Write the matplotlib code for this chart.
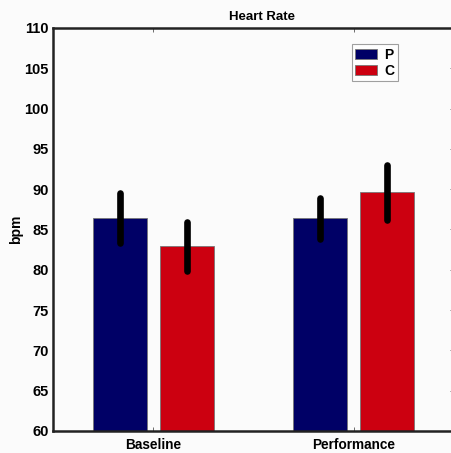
import numpy as np
import matplotlib
matplotlib.use("Agg")
import matplotlib.pyplot as plt

plt.rcParams['font.family'] = ['Liberation Sans', 'DejaVu Sans']
plt.rcParams['font.weight'] = 'bold'

# heart rate means and error per condition
conditions = ["Baseline", "Performance"]
groups = ["P", "C"]
means_p = [86.4, 86.4]
means_c = [82.9, 89.6]
err_p = [3.1, 2.55]
err_c = [3.0, 3.4]
colors = ["#000066", "#cc0010"]
yticks = [60, 65, 70, 75, 80, 85, 90, 95, 100, 105, 110]

fig = plt.figure(figsize=(4.52, 4.53), dpi=100, facecolor="#fbfbfb")
ax = fig.add_axes([53 / 452, 22 / 453, 401 / 452, 403 / 453])
ax.set_facecolor("#fbfbfb")

x = np.arange(1, len(conditions) + 1)
width = 0.27
off = 0.167
for i, (means, errs) in enumerate([(means_p, err_p), (means_c, err_c)]):
    pos = x + (i * 2 - 1) * off
    ax.bar(pos, means, width, color=colors[i], edgecolor="#777777",
           linewidth=0.6, label=groups[i], zorder=2)
    # thick round-ended error bars, no caps
    for p, m, e in zip(pos, means, errs):
        ax.plot([p, p], [m - e, m + e], color="black", lw=4.8,
                solid_capstyle="round", zorder=3)

ax.set_xlim(0.5, 2.5)
ax.set_ylim(60, 110)
ax.set_xticks(x)
ax.set_xticklabels(conditions, fontsize=9.8, fontweight="bold")
ax.set_yticks(yticks)
ax.set_yticklabels([str(t) for t in yticks], fontsize=10.5, fontweight="bold")
ax.tick_params(axis="both", direction="in", length=3, width=0.6, color="#555555",
               top=True, right=True, left=False)
ax.tick_params(axis="x", pad=5)
ax.tick_params(axis="y", pad=3)
for s in ["left", "bottom", "top"]:
    ax.spines[s].set_linewidth(1.8)
    ax.spines[s].set_color("#222222")
ax.spines["right"].set_linewidth(1.0)

ax.set_ylabel("bpm", fontsize=10, fontweight="bold", labelpad=1)
ax.set_title("Heart Rate", fontsize=9.5, fontweight="bold", pad=6, x=0.52)

leg = ax.legend(loc="upper left", bbox_to_anchor=(0.745, 0.96), fontsize=10,
                frameon=True, fancybox=False, edgecolor="#888888",
                handlelength=1.6, handleheight=0.7, handletextpad=0.5,
                borderpad=0.25, labelspacing=0.15, borderaxespad=0)
leg.get_frame().set_linewidth(0.8)
for t in leg.get_texts():
    t.set_fontweight("bold")

fig.savefig("out.png", dpi=100, facecolor=fig.get_facecolor())
